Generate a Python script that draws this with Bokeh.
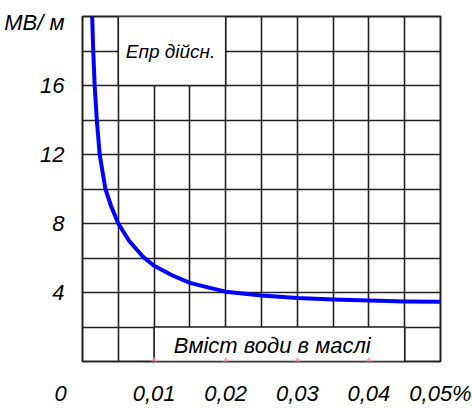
from bokeh.plotting import figure
from bokeh.models import FixedTicker, Label
from bokeh.embed import file_html
from bokeh.resources import INLINE

# Data
water = [0.00135, 0.0015, 0.0017, 0.002, 0.0024, 0.0032, 0.004, 0.005, 0.0065,
         0.0085, 0.01, 0.0125, 0.015, 0.0175, 0.02, 0.025, 0.03, 0.035, 0.04,
         0.045, 0.05]
strength = [20, 18, 16, 14, 12, 10, 9.0, 8.0, 7.0,
            6.05, 5.55, 5.0, 4.56, 4.3, 4.05, 3.82, 3.68, 3.6, 3.53,
            3.48, 3.46]

x_ticks = [0, 0.01, 0.02, 0.03, 0.04, 0.05]
x_tick_labels = ["0\u2003\u2003", "0,01", "0,02", "0,03", "0,04", "0,05%"]
marker_x = [0.01, 0.02, 0.03, 0.04]
y_ticks = [4, 8, 12, 16, 19.65]
y_tick_labels = ["4", "8", "12", "16", "МВ/ м"]
x_grid = [0, 0.005, 0.01, 0.015, 0.02, 0.025, 0.03, 0.035, 0.04, 0.045, 0.05]
y_grid = [0, 2, 4, 6, 8, 10, 12, 14, 16, 18, 20]

FONT = "Liberation Sans"
GRID = "#222222"

p = figure(width=472, height=408, x_range=(0, 0.05), y_range=(0, 20),
           output_backend="svg", toolbar_location=None,
           min_border_left=82, min_border_right=32, min_border_top=16,
           min_border_bottom=40)
p.background_fill_color = "white"
p.border_fill_color = "white"
p.outline_line_color = GRID
p.outline_line_width = 2

p.xgrid.ticker = FixedTicker(ticks=x_grid)
p.ygrid.ticker = FixedTicker(ticks=y_grid)
for g in (p.xgrid, p.ygrid):
    g.grid_line_color = GRID
    g.grid_line_width = 1.6
    g.grid_line_alpha = 1.0

xa = p.xaxis[0]
xa.ticker = FixedTicker(ticks=x_ticks)
xa.major_label_overrides = dict(zip(x_ticks, x_tick_labels))
xa.major_label_standoff = 13

ya = p.yaxis[0]
ya.ticker = FixedTicker(ticks=y_ticks)
ya.major_label_overrides = dict(zip(y_ticks, y_tick_labels))
ya.major_label_standoff = 12

for ax in (xa, ya):
    ax.axis_line_color = None
    ax.major_tick_line_color = None
    ax.minor_tick_line_color = None
    ax.major_label_text_font = FONT
    ax.major_label_text_font_style = "italic"
    ax.major_label_text_font_size = "22px"
    ax.major_label_text_color = "black"

# white boxes holding the labels
p.quad(left=[0.005, 0.01], right=[0.02, 0.045], bottom=[16, 0], top=[20, 2],
       fill_color="white", line_color=GRID, line_width=1.6)

p.line(water, strength, line_color="#0000ff", line_width=4, line_join="round")

p.scatter(marker_x, [0] * len(marker_x), marker="diamond", size=9,
          fill_color="#ff8c9e", line_color=None, fill_alpha=0.8)

p.add_layout(Label(x=0.0123, y=17.95, text="Епр дійсн.", text_align="center",
                   text_baseline="middle", text_font=FONT,
                   text_font_style="italic", text_font_size="19px",
                   text_color="black"))
p.add_layout(Label(x=0.0265, y=0.9, text="Вміст води в маслі", text_align="center",
                   text_baseline="middle", text_font=FONT,
                   text_font_style="italic", text_font_size="22px",
                   text_color="black"))

open("out.html", "w").write(file_html(p, INLINE))
